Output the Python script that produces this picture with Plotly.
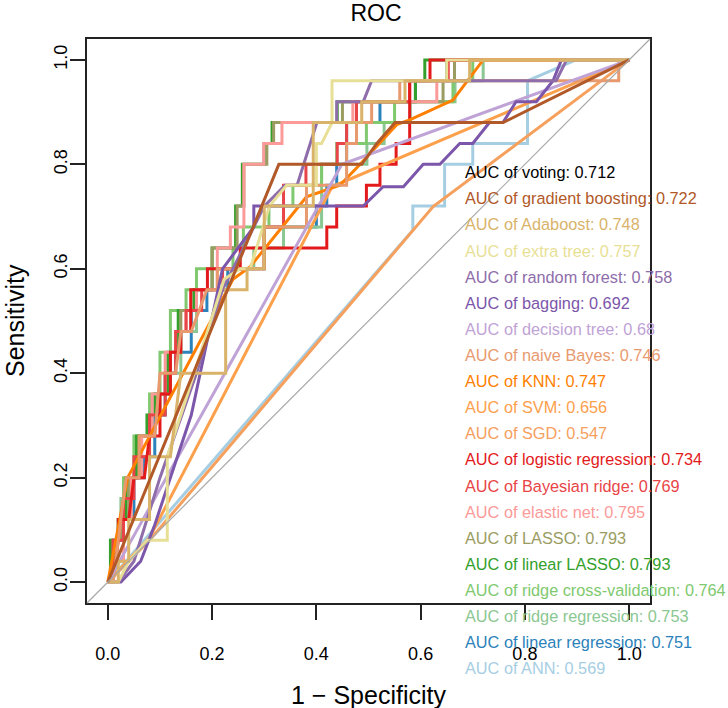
import plotly.graph_objects as go

# ---------------- data ----------------
model_names = ["voting", "gradient boosting", "Adaboost", "extra tree", "random forest",
               "bagging", "decision tree", "naive Bayes", "KNN", "SVM", "SGD",
               "logistic regression", "Bayesian ridge", "elastic net", "LASSO",
               "linear LASSO", "ridge cross-validation", "ridge regression",
               "linear regression", "ANN"]
auc_values = ["0.712", "0.722", "0.748", "0.757", "0.758", "0.692", "0.68", "0.746",
              "0.747", "0.656", "0.547", "0.734", "0.769", "0.795", "0.793", "0.793",
              "0.764", "0.753", "0.751", "0.569"]
model_colors = ["#000000", "#B15928", "#D9B36A", "#E8DF96", "#8E6DAA", "#7C56AA",
                "#BFA3D6", "#E89A6E", "#FF7F00", "#FDA04C", "#F6A05E", "#E31A1C",
                "#E84548", "#FB9A99", "#9A9C62", "#33A02C", "#80C96F", "#8BC792",
                "#2C82BA", "#A6CEE3"]

tick_vals = [0.0, 0.2, 0.4, 0.6, 0.8, 1.0]
tick_text = ["0.0", "0.2", "0.4", "0.6", "0.8", "1.0"]

voting_fpr = []
voting_tpr = []

gb_fpr = [0, 0.328, 0.487, 0.516, 0.551, 0.758, 1]
gb_tpr = [0, 0.80, 0.80, 0.84, 0.88, 0.88, 1]

ada_fpr = [0, 0.02, 0.02, 0.04, 0.04, 0.08, 0.08, 0.12, 0.14, 0.226, 0.226, 0.267, 0.267,
           0.30, 0.30, 0.394, 0.394, 0.487, 0.487, 0.57, 0.57, 0.694, 0.694, 1]
ada_tpr = [0, 0, 0.04, 0.04, 0.12, 0.12, 0.24, 0.24, 0.40, 0.40, 0.56, 0.56, 0.60,
           0.60, 0.72, 0.72, 0.88, 0.88, 0.92, 0.92, 0.96, 0.96, 1, 1]

et_fpr = [0, 0.02, 0.04, 0.076, 0.114, 0.114, 0.14, 0.223, 0.254, 0.273, 0.31, 0.343,
          0.40, 0.40, 0.41, 0.43, 0.43, 0.65, 0.65, 1]
et_tpr = [0, 0, 0.04, 0.08, 0.08, 0.24, 0.32, 0.58, 0.60, 0.60, 0.72, 0.76,
          0.76, 0.84, 0.84, 0.88, 0.96, 0.96, 1, 1]

rf_fpr = [0, 0.02, 0.05, 0.10, 0.17, 0.22, 0.26, 0.30, 0.34, 0.363, 0.401, 0.439, 0.439,
          0.49, 0.506, 0.86, 0.88, 1]
rf_tpr = [0, 0, 0.04, 0.20, 0.40, 0.56, 0.64, 0.72, 0.76, 0.76, 0.88, 0.88, 0.92,
          0.92, 0.96, 0.96, 1.0, 1]

bag_fpr = [0, 0.025, 0.063, 0.09, 0.16, 0.22, 0.28, 0.28, 0.49, 0.528, 0.567, 0.605,
           0.637, 0.675, 0.70, 0.732, 0.758, 0.783, 0.822, 0.854, 0.87, 1]
bag_tpr = [0, 0, 0.04, 0.11, 0.32, 0.60, 0.68, 0.72, 0.72, 0.757, 0.757, 0.80,
           0.80, 0.84, 0.84, 0.88, 0.88, 0.92, 0.92, 0.96, 1.0, 1]

dt_fpr = [0, 0.449, 1]
dt_tpr = [0, 0.80, 1]

nb_fpr = [0, 0.01, 0.02, 0.035, 0.06, 0.06, 0.09, 0.10, 0.13, 0.14, 0.16, 0.19, 0.21, 0.21,
          0.299, 0.299, 0.381, 0.381, 0.458, 0.458, 0.477, 0.477, 0.506, 0.506, 0.56,
          0.56, 0.98, 0.98, 1]
nb_tpr = [0, 0, 0.08, 0.20, 0.20, 0.28, 0.28, 0.40, 0.40, 0.48, 0.48, 0.56, 0.56, 0.60,
          0.60, 0.68, 0.68, 0.76, 0.76, 0.84, 0.84, 0.88, 0.88, 0.92, 0.92,
          0.96, 0.96, 1.0, 1]

knn_fpr = [0, 0.038, 0.24, 0.273, 0.381, 0.445, 0.484, 0.554, 0.579, 0.662, 0.72, 1]
knn_tpr = [0, 0.20, 0.58, 0.604, 0.738, 0.76, 0.80, 0.876, 0.885, 0.923, 1.0, 1]

svm_fpr = [0, 0.08, 0.43, 1]
svm_tpr = [0, 0.085, 0.757, 1]

sgd_fpr = [0, 0.08, 0.624, 1]
sgd_tpr = [0, 0.08, 0.719, 1]

lr_fpr = [0, 0.01, 0.02, 0.02, 0.04, 0.05, 0.07, 0.08, 0.10, 0.10, 0.12, 0.12, 0.14, 0.14,
          0.159, 0.159, 0.191, 0.191, 0.254, 0.254, 0.42, 0.42, 0.439, 0.439, 0.496,
          0.496, 0.522, 0.522, 0.553, 0.553, 0.579, 0.579, 0.618, 0.618, 1]
lr_tpr = [0, 0, 0.08, 0.12, 0.12, 0.20, 0.20, 0.28, 0.28, 0.36, 0.36, 0.44, 0.44, 0.48,
          0.48, 0.56, 0.56, 0.60, 0.60, 0.64, 0.64, 0.68, 0.68, 0.72, 0.72,
          0.76, 0.76, 0.80, 0.80, 0.84, 0.84, 0.96, 0.96, 1.0, 1]

br_fpr = [0, 0.01, 0.01, 0.03, 0.03, 0.05, 0.05, 0.08, 0.08, 0.11, 0.11, 0.13, 0.13, 0.15,
          0.15, 0.18, 0.18, 0.22, 0.22, 0.30, 0.30, 0.337, 0.337, 0.38, 0.38, 0.44, 0.44,
          0.458, 0.458, 0.477, 0.477, 0.579, 0.579, 0.653, 0.653, 1]
br_tpr = [0, 0, 0.08, 0.08, 0.16, 0.16, 0.24, 0.24, 0.32, 0.32, 0.40, 0.40, 0.48, 0.48,
          0.52, 0.52, 0.56, 0.56, 0.60, 0.60, 0.68, 0.68, 0.76, 0.76, 0.80, 0.80, 0.84,
          0.84, 0.88, 0.88, 0.92, 0.92, 0.96, 0.96, 1.0, 1]

en_fpr = [0, 0.01, 0.01, 0.03, 0.03, 0.045, 0.045, 0.065, 0.065, 0.085, 0.085, 0.11, 0.11,
          0.13, 0.13, 0.15, 0.15, 0.17, 0.17, 0.21, 0.21, 0.235, 0.235, 0.261, 0.261,
          0.299, 0.299, 0.334, 0.334, 0.47, 0.47, 0.631, 0.631, 0.652, 0.652, 1]
en_tpr = [0, 0, 0.04, 0.04, 0.12, 0.12, 0.20, 0.20, 0.28, 0.28, 0.36, 0.36, 0.44,
          0.44, 0.48, 0.48, 0.52, 0.52, 0.56, 0.56, 0.64, 0.64, 0.68, 0.68, 0.80,
          0.80, 0.84, 0.84, 0.88, 0.88, 0.92, 0.92, 0.96, 0.96, 1.0, 1]

lasso_fpr = [0, 0.01, 0.01, 0.025, 0.025, 0.04, 0.04, 0.06, 0.06, 0.08, 0.08, 0.095, 0.095,
             0.12, 0.12, 0.14, 0.14, 0.17, 0.17, 0.20, 0.20, 0.248, 0.248, 0.261, 0.261,
             0.305, 0.305, 0.318, 0.318, 0.45, 0.45, 0.643, 0.643, 0.665, 0.665, 1]
lasso_tpr = [0, 0, 0.08, 0.08, 0.12, 0.12, 0.20, 0.20, 0.28, 0.28, 0.32, 0.32, 0.36,
             0.36, 0.44, 0.44, 0.52, 0.52, 0.56, 0.56, 0.64, 0.64, 0.72, 0.72, 0.80,
             0.80, 0.84, 0.84, 0.88, 0.88, 0.92, 0.92, 0.96, 0.96, 1.0, 1]

llasso_fpr = [0, 0.005, 0.005, 0.02, 0.02, 0.035, 0.035, 0.055, 0.055, 0.075, 0.075, 0.09,
              0.09, 0.115, 0.115, 0.135, 0.135, 0.165, 0.165, 0.20, 0.20, 0.245, 0.245,
              0.258, 0.258, 0.30, 0.30, 0.315, 0.315, 0.44, 0.44, 0.59, 0.59, 0.608,
              0.608, 1]
llasso_tpr = [0, 0, 0.08, 0.08, 0.12, 0.12, 0.20, 0.20, 0.28, 0.28, 0.32, 0.32, 0.36,
              0.36, 0.44, 0.44, 0.52, 0.52, 0.56, 0.56, 0.64, 0.64, 0.72, 0.72, 0.80,
              0.80, 0.84, 0.84, 0.88, 0.88, 0.92, 0.92, 0.96, 0.96, 1.0, 1]

rcv_fpr = [0, 0.005, 0.005, 0.02, 0.02, 0.03, 0.03, 0.05, 0.05, 0.08, 0.08, 0.10, 0.10,
           0.12, 0.12, 0.15, 0.15, 0.17, 0.17, 0.24, 0.24, 0.26, 0.26, 0.309, 0.309,
           0.355, 0.355, 0.41, 0.41, 0.439, 0.439, 0.496, 0.496, 0.55, 0.55, 0.662,
           0.662, 0.70, 0.70, 1]
rcv_tpr = [0, 0, 0.08, 0.08, 0.12, 0.12, 0.20, 0.20, 0.28, 0.28, 0.36, 0.36, 0.44,
           0.44, 0.52, 0.52, 0.56, 0.56, 0.60, 0.60, 0.64, 0.64, 0.68, 0.68, 0.72,
           0.72, 0.76, 0.76, 0.80, 0.80, 0.84, 0.84, 0.88, 0.88, 0.92, 0.92,
           0.96, 0.96, 1.0, 1]

rr_fpr = [0, 0.01, 0.01, 0.025, 0.025, 0.04, 0.04, 0.06, 0.06, 0.08, 0.08, 0.10, 0.10,
          0.12, 0.12, 0.14, 0.14, 0.17, 0.17, 0.22, 0.22, 0.28, 0.28, 0.337, 0.337,
          0.41, 0.41, 0.497, 0.497, 0.53, 0.53, 0.58, 0.58, 0.666, 0.666, 0.72, 0.72, 1]
rr_tpr = [0, 0, 0.08, 0.08, 0.16, 0.16, 0.20, 0.20, 0.28, 0.28, 0.32, 0.32, 0.36,
          0.36, 0.40, 0.40, 0.48, 0.48, 0.56, 0.56, 0.60, 0.60, 0.64, 0.64, 0.68,
          0.68, 0.80, 0.80, 0.84, 0.84, 0.88, 0.88, 0.92, 0.92, 0.96, 0.96, 1.0, 1]

lin_fpr = [0, 0.01, 0.01, 0.03, 0.03, 0.05, 0.05, 0.07, 0.07, 0.09, 0.09, 0.11, 0.11,
           0.13, 0.13, 0.16, 0.16, 0.19, 0.19, 0.23, 0.23, 0.30, 0.30, 0.40, 0.40,
           0.42, 0.42, 0.439, 0.439, 0.458, 0.458, 0.522, 0.522, 0.59, 0.59, 0.65, 0.65, 1]
lin_tpr = [0, 0, 0.08, 0.08, 0.12, 0.12, 0.20, 0.20, 0.24, 0.24, 0.32, 0.32, 0.40,
           0.40, 0.44, 0.44, 0.52, 0.52, 0.56, 0.56, 0.60, 0.60, 0.68, 0.68, 0.72,
           0.72, 0.76, 0.76, 0.80, 0.80, 0.88, 0.88, 0.92, 0.92, 0.96, 0.96, 1.0, 1]

ann_fpr = [0, 0.585, 0.585, 0.646, 0.646, 0.70, 0.70, 0.805, 0.805, 0.898, 1]
ann_tpr = [0, 0.674, 0.72, 0.72, 0.80, 0.80, 0.84, 0.84, 0.96, 1.0, 1]

curves_fpr = [voting_fpr, gb_fpr, ada_fpr, et_fpr, rf_fpr, bag_fpr, dt_fpr, nb_fpr,
              knn_fpr, svm_fpr, sgd_fpr, lr_fpr, br_fpr, en_fpr, lasso_fpr, llasso_fpr,
              rcv_fpr, rr_fpr, lin_fpr, ann_fpr]
curves_tpr = [voting_tpr, gb_tpr, ada_tpr, et_tpr, rf_tpr, bag_tpr, dt_tpr, nb_tpr,
              knn_tpr, svm_tpr, sgd_tpr, lr_tpr, br_tpr, en_tpr, lasso_tpr, llasso_tpr,
              rcv_tpr, rr_tpr, lin_tpr, ann_tpr]

# ---------------- figure ----------------
FONT = "Liberation Sans, Arial, Helvetica, sans-serif"
AX_LO, AX_HI = -0.04, 1.04


def to_paper(v):
    """data value -> paper fraction (both axes share the same range)"""
    return (v - AX_LO) / (AX_HI - AX_LO)


fig = go.Figure()

# draw last model first so that the early ones sit on top
for i in reversed(range(len(model_names))):
    if not curves_fpr[i]:
        continue
    fig.add_trace(go.Scatter(
        x=curves_fpr[i], y=curves_tpr[i], mode="lines",
        line=dict(color=model_colors[i], width=3),
        name=model_names[i], showlegend=False, hoverinfo="skip"))

# chance diagonal (abline 0,1) across the whole plot region
fig.add_shape(type="line", xref="paper", yref="paper", x0=0, y0=0, x1=1, y1=1,
              line=dict(color="#A8A8A8", width=1.2), layer="above")

# legend text (R legend, no box), anchored in data units converted to paper
leg_x, leg_y0, leg_dy = 0.681, 0.785, 0.05
for i, (nm, auc) in enumerate(zip(model_names, auc_values)):
    fig.add_annotation(x=to_paper(leg_x), y=to_paper(leg_y0 - leg_dy * i),
                       xref="paper", yref="paper",
                       text=f"AUC of {nm}: {auc}", showarrow=False,
                       xanchor="left", yanchor="middle",
                       font=dict(family=FONT, size=16.3, color=model_colors[i]))

# axis titles
fig.add_annotation(x=0.5, y=0, xref="paper", yref="paper", yshift=-92,
                   text="1 \u2212 Specificity", showarrow=False,
                   xanchor="center", yanchor="middle",
                   font=dict(family=FONT, size=25, color="black"))
fig.add_annotation(x=0, y=0.5, xref="paper", yref="paper", xshift=-72,
                   text="Sensitivity", showarrow=False, textangle=-90,
                   xanchor="center", yanchor="middle",
                   font=dict(family=FONT, size=25, color="black"))

axis_common = dict(range=[AX_LO, AX_HI], tickmode="array", tickvals=tick_vals,
                   ticktext=tick_text, ticks="outside", ticklen=15, tickwidth=1.5,
                   tickcolor="#222", showline=True, mirror=True, linecolor="#222",
                   linewidth=1.5, showgrid=False, zeroline=False,
                   tickfont=dict(family=FONT, size=18, color="black"))

fig.update_layout(
    width=728, height=708,
    margin=dict(l=87, r=78, t=39, b=105),
    paper_bgcolor="white", plot_bgcolor="white",
    title=dict(text="ROC", x=0.5165, xanchor="center", y=0.993,
               yanchor="top", pad=dict(t=0, b=0),
               font=dict(family=FONT, size=23, color="black")),
    xaxis=dict(**axis_common, ticklabelstandoff=19),
    yaxis=dict(**axis_common, tickangle=-90, ticklabelstandoff=-4),
    showlegend=False,
)

fig.write_html("out.html")
